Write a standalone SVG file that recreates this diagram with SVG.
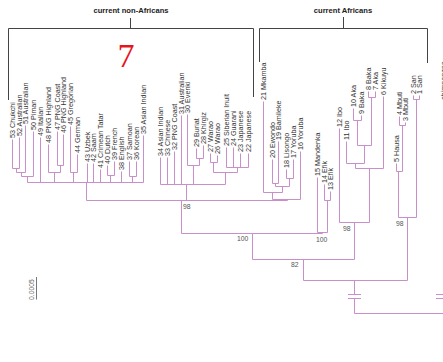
<svg xmlns="http://www.w3.org/2000/svg" width="443" height="362" viewBox="0 0 443 362">
<style>
.lab{font-family:"Liberation Sans",Arial,sans-serif;font-size:7.2px;fill:#333}
.hd{font-family:"Liberation Sans",Arial,sans-serif;font-size:7.6px;font-weight:bold;fill:#222;text-anchor:middle}
.bs{font-family:"Liberation Sans",Arial,sans-serif;font-size:6.8px;fill:#555}
.br{stroke:#444;stroke-width:1;fill:none}
.t{stroke:#c88fca;stroke-width:1;fill:none}
</style>
<rect width="443" height="362" fill="#fff"/>
<g id="brackets">
<text class="hd" x="131" y="13">current non-Africans</text>
<path class="br" d="M8.5 100V28.5H253.5V97M130.5 18V28.5"/>
<text class="hd" x="343" y="13">current Africans</text>
<path class="br" d="M259.5 62V28.5H427.5V63M343.5 17V28.5"/>
</g>
<text x="126" y="67" font-family="Liberation Serif,serif" font-size="34" fill="#e8141c" text-anchor="middle">7</text>
<g id="leaves">
<g id="n53"><text class="lab" transform="translate(14.5,138) rotate(-90)">53 Chukchi</text></g>
<g id="n52"><text class="lab" transform="translate(21.5,136) rotate(-90)">52 Australian</text></g>
<g id="n51"><text class="lab" transform="translate(27.5,124) rotate(-90)">51 Australian</text></g>
<g id="n50"><text class="lab" transform="translate(35.5,130) rotate(-90)">50 Piman</text></g>
<g id="n49"><text class="lab" transform="translate(42.5,136) rotate(-90)">49 Italian</text></g>
<g id="n48"><text class="lab" transform="translate(50.5,143) rotate(-90)">48 PNG Highland</text></g>
<g id="n47"><text class="lab" transform="translate(59.5,130) rotate(-90)">47 PNG Coast</text></g>
<g id="n46"><text class="lab" transform="translate(65.5,133) rotate(-90)">46 PNG Highland</text></g>
<g id="n45"><text class="lab" transform="translate(72.5,125) rotate(-90)">45 Gregorian</text></g>
<g id="n44"><text class="lab" transform="translate(79.5,153) rotate(-90)">44 German</text></g>
<g id="n43"><text class="lab" transform="translate(89.5,162) rotate(-90)">43 Uzbek</text></g>
<g id="n42"><text class="lab" transform="translate(95.5,162) rotate(-90)">42 Saam</text></g>
<g id="n41"><text class="lab" transform="translate(102.5,168) rotate(-90)">41 Crimean Tatar</text></g>
<g id="n40"><text class="lab" transform="translate(109.5,164) rotate(-90)">40 Dutch</text></g>
<g id="n39"><text class="lab" transform="translate(116.5,160) rotate(-90)">39 French</text></g>
<g id="n38"><text class="lab" transform="translate(123.5,170) rotate(-90)">38 English</text></g>
<g id="n37"><text class="lab" transform="translate(131.5,160) rotate(-90)">37 Samoan</text></g>
<g id="n36"><text class="lab" transform="translate(138.5,160) rotate(-90)">36 Korean</text></g>
<g id="n35"><text class="lab" transform="translate(145.5,134) rotate(-90)">35 Asian Indian</text></g>
<g id="n34"><text class="lab" transform="translate(162.5,156) rotate(-90)">34 Asian Indian</text></g>
<g id="n33"><text class="lab" transform="translate(169.5,156) rotate(-90)">33 Chinese</text></g>
<g id="n32"><text class="lab" transform="translate(176.5,150) rotate(-90)">32 PNG Coast</text></g>
<g id="n31"><text class="lab" transform="translate(183.5,114) rotate(-90)">31 Australian</text></g>
<g id="n30"><text class="lab" transform="translate(189.5,113) rotate(-90)">30 Evenki</text></g>
<g id="n29"><text class="lab" transform="translate(198.5,147) rotate(-90)">29 Buriat</text></g>
<g id="n28"><text class="lab" transform="translate(205.5,144) rotate(-90)">28 Khirgiz</text></g>
<g id="n27"><text class="lab" transform="translate(212.5,152) rotate(-90)">27 Warao</text></g>
<g id="n26"><text class="lab" transform="translate(219.5,154) rotate(-90)">26 Warao</text></g>
<g id="n25"><text class="lab" transform="translate(228.5,146) rotate(-90)">25 Siberian Inuit</text></g>
<g id="n24"><text class="lab" transform="translate(235.5,146) rotate(-90)">24 Guarani</text></g>
<g id="n23"><text class="lab" transform="translate(242.5,152) rotate(-90)">23 Japanese</text></g>
<g id="n22"><text class="lab" transform="translate(250.5,152) rotate(-90)">22 Japanese</text></g>
<g id="n21"><text class="lab" transform="translate(265.5,100) rotate(-90)">21 Mkamba</text></g>
<g id="n20"><text class="lab" transform="translate(274.5,158) rotate(-90)">20 Ewondo</text></g>
<g id="n19"><text class="lab" transform="translate(280.5,140) rotate(-90)">19 Bamileke</text></g>
<g id="n18"><text class="lab" transform="translate(288.5,168) rotate(-90)">18 Lisongo</text></g>
<g id="n17"><text class="lab" transform="translate(295.5,158) rotate(-90)">17 Yoruba</text></g>
<g id="n16"><text class="lab" transform="translate(302.5,150) rotate(-90)">16 Yoruba</text></g>
<g id="n15"><text class="lab" transform="translate(319.5,176) rotate(-90)">15 Mandenka</text></g>
<g id="n14"><text class="lab" transform="translate(326.5,183) rotate(-90)">14 Efik</text></g>
<g id="n13"><text class="lab" transform="translate(332.5,190) rotate(-90)">13 Efik</text></g>
<g id="n12"><text class="lab" transform="translate(341.5,127) rotate(-90)">12 Ibo</text></g>
<g id="n11"><text class="lab" transform="translate(348.5,140) rotate(-90)">11 Ibo</text></g>
<g id="n10"><text class="lab" transform="translate(355.5,107) rotate(-90)">10 Aka</text></g>
<g id="n9"><text class="lab" transform="translate(363.5,114) rotate(-90)">9 Baka</text></g>
<g id="n8"><text class="lab" transform="translate(370.5,90) rotate(-90)">8 Baka</text></g>
<g id="n7"><text class="lab" transform="translate(377.5,90) rotate(-90)">7 Aka</text></g>
<g id="n6"><text class="lab" transform="translate(385.5,95) rotate(-90)">6 Kikuyu</text></g>
<g id="n5"><text class="lab" transform="translate(398.5,162) rotate(-90)">5 Hausa</text></g>
<g id="n4"><text class="lab" transform="translate(401.5,115) rotate(-90)">4 Mbuti</text></g>
<g id="n3"><text class="lab" transform="translate(407.5,121) rotate(-90)">3 Mbuti</text></g>
<g id="n2"><text class="lab" transform="translate(415.5,94) rotate(-90)">2 San</text></g>
<g id="n1"><text class="lab" transform="translate(421.5,94) rotate(-90)">1 San</text></g>
<g id="chimp"><text class="lab" transform="translate(446,100) rotate(-90)">chimpanzee</text></g>
</g>
<g id="connectors" class="t">
<path d="M12.5 139.5V168.5M19.5 137.5V168.5M25.5 125.5V172.5M33.5 131.5V176.5M40.5 137.5V182.5M48.5 144.5V172.5M57.5 131.5V165.5M63.5 134.5V165.5M70.5 126.5V172.5M77.5 154.5V172.5M87.5 163.5V182.5M93.5 163.5V182.5M100.5 169.5V182.5M107.5 165.5V175.5M114.5 161.5V175.5M121.5 171.5V182.5M129.5 161.5V176.5M136.5 161.5V176.5M143.5 135.5V182.5"/>
<path d="M12.5 168.5H19.5M16.5 168.5V172.5M16.5 172.5H25.5M21.5 172.5V176.5M21.5 176.5H33.5M27.5 176.5V182.5M57.5 165.5H63.5M60.5 165.5V172.5M48.5 172.5H60.5M54.5 172.5V182.5M70.5 172.5H77.5M73.5 172.5V182.5M107.5 175.5H114.5M110.5 175.5V182.5M129.5 176.5H136.5M132.5 176.5V182.5M27.5 182.5H143.5M86.5 182.5V200.5"/>
<path d="M160.5 157.5V184.5M167.5 157.5V184.5M174.5 151.5V184.5M181.5 115.5V184.5M187.5 114.5V165.5M196.5 148.5V158.5M203.5 145.5V158.5M210.5 153.5V162.5M217.5 155.5V162.5M226.5 147.5V167.5M233.5 147.5V167.5M240.5 153.5V167.5M248.5 153.5V167.5"/>
<path d="M196.5 158.5H203.5M199.5 158.5V165.5M187.5 165.5H199.5M193.5 165.5V184.5M210.5 162.5H217.5M213.5 162.5V172.5M226.5 167.5H248.5M237.5 167.5V172.5M213.5 172.5H237.5M225.5 172.5V184.5M160.5 184.5H225.5M186.5 184.5V200.5"/>
<path d="M263.5 101.5V192.5M272.5 159.5V183.5M278.5 141.5V183.5M286.5 169.5V178.5M293.5 159.5V178.5M300.5 151.5V199.5M272.5 183.5H278.5M275.5 183.5V186.5M286.5 178.5H293.5M289.5 178.5V186.5M275.5 186.5H289.5M282.5 186.5V192.5M263.5 192.5H282.5M272.5 192.5V199.5M272.5 199.5H300.5M287.5 199.5V200.5M86.5 200.5H287.5M181.5 200.5V233.5"/>
<path d="M317.5 177.5V232.5M324.5 184.5V200.5M330.5 191.5V200.5M324.5 200.5H330.5M327.5 200.5V232.5M317.5 232.5H327.5M322.5 232.5V233.5M181.5 233.5H322.5M252.5 233.5V259.5"/>
<path d="M339.5 128.5V222.5M346.5 141.5V163.5M353.5 108.5V120.5M361.5 115.5V120.5M368.5 91.5V97.5M375.5 91.5V97.5M383.5 96.5V168.5M353.5 120.5H361.5M357.5 120.5V145.5M368.5 97.5H375.5M371.5 97.5V145.5M357.5 145.5H371.5M364.5 145.5V163.5M346.5 163.5H364.5M355.5 163.5V168.5M355.5 168.5H383.5M369.5 168.5V222.5M339.5 222.5H369.5M354.5 222.5V259.5M252.5 259.5H354.5M303.5 259.5V280.5"/>
<path d="M396.5 163.5V171.5M399.5 116.5V125.5M405.5 122.5V125.5M399.5 125.5H405.5M402.5 125.5V171.5M396.5 171.5H402.5M398.5 171.5V217.5M413.5 95.5V99.5M419.5 95.5V99.5M413.5 99.5H419.5M416.5 99.5V217.5M398.5 217.5H416.5M407.5 217.5V280.5M303.5 280.5H407.5M354.5 280.5V295M354.5 298V313.5H446"/>
<path d="M348 294.5H361M348 298.5H361M436 294.5H447M436 298.5H447"/>
</g>
<g id="bootstrap">
<text class="bs" x="183" y="208.5">98</text>
<text class="bs" x="237" y="241">100</text>
<text class="bs" x="316" y="242">100</text>
<text class="bs" x="343" y="230.5">98</text>
<text class="bs" x="396" y="225.5">98</text>
<text class="bs" x="291" y="267">82</text>
</g>
<g id="scale">
<text class="bs" transform="translate(33.5,300) rotate(-90)">0.0005</text>
<path d="M36.5 277V299.5" stroke="#777" stroke-width="1"/>
</g>
</svg>
